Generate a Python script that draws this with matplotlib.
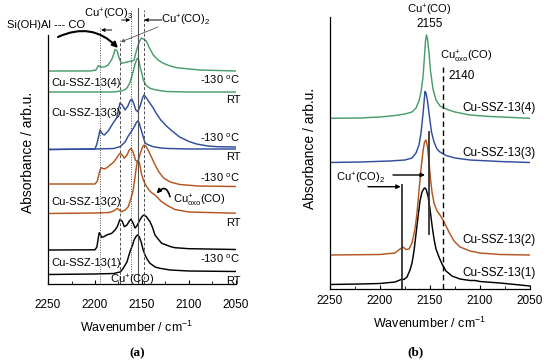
import matplotlib
matplotlib.use("Agg")
import matplotlib.pyplot as plt
from matplotlib.ticker import MultipleLocator

plt.rcParams['font.family'] = ['Liberation Sans', 'DejaVu Sans']
plt.rcParams['mathtext.fontset'] = 'custom'
plt.rcParams['mathtext.rm'] = 'Liberation Sans'
plt.rcParams['mathtext.it'] = 'Liberation Sans:italic'
plt.rcParams['mathtext.bf'] = 'Liberation Sans:bold'

# ---------------- data: panel (a) ----------------
a1_rt_wn = [2250, 2200, 2180, 2176, 2173, 2170, 2166, 2162.8, 2160, 2158.5, 2156, 2154.6, 2153, 2151, 2149, 2146.8, 2144, 2141.5, 2136, 2131, 2120, 2100, 2050]
a1_rt_ab = [0.095, 0.10, 0.105, 0.115, 0.12, 0.157, 0.22, 0.323, 0.39, 0.44, 0.48, 0.49, 0.475, 0.423, 0.35, 0.29, 0.24, 0.207, 0.17, 0.157, 0.14, 0.13, 0.125]

a1_lt_wn = [2250, 2200, 2198, 2196.5, 2195.5, 2194, 2192.9, 2190, 2187.6, 2182.2, 2178.7, 2176.3, 2173.4, 2171, 2168.8, 2166, 2163.5, 2161.7, 2159.5, 2157.4, 2155.5, 2152, 2149.5, 2147.9, 2145.5, 2141.5, 2139, 2136.2, 2132, 2129, 2120, 2115, 2100, 2050]
a1_lt_ab = [0.34, 0.342, 0.37, 0.46, 0.513, 0.49, 0.467, 0.475, 0.49, 0.507, 0.54, 0.573, 0.647, 0.625, 0.573, 0.59, 0.63, 0.647, 0.61, 0.56, 0.58, 0.645, 0.68, 0.69, 0.675, 0.623, 0.57, 0.49, 0.44, 0.407, 0.375, 0.363, 0.353, 0.345]

a2_rt_wn = [2250, 2200, 2185, 2180, 2176.3, 2172, 2168, 2164.6, 2162, 2159.3, 2157, 2155.5, 2154, 2152.5, 2150.5, 2148.6, 2146, 2143, 2140, 2137, 2134, 2130, 2124, 2115, 2100, 2050]
a2_rt_ab = [0.705, 0.71, 0.715, 0.73, 0.757, 0.722, 0.74, 0.773, 0.85, 0.94, 1.10, 1.20, 1.24, 1.20, 1.10, 1.04, 0.99, 0.945, 0.915, 0.895, 0.87, 0.83, 0.79, 0.745, 0.72, 0.708]

a2_lt_wn = [2250, 2200, 2197.5, 2195.5, 2193.6, 2190, 2187, 2184, 2180, 2177, 2175, 2173.4, 2171, 2168.8, 2166, 2163.5, 2161.7, 2159.5, 2157, 2154.6, 2152, 2149.5, 2147.6, 2145.5, 2143, 2140, 2136, 2132, 2127, 2120, 2110, 2090, 2050]
a2_lt_ab = [1.0, 1.0, 1.03, 1.11, 1.163, 1.15, 1.165, 1.19, 1.22, 1.26, 1.29, 1.307, 1.29, 1.257, 1.29, 1.34, 1.357, 1.32, 1.24, 1.215, 1.30, 1.37, 1.39, 1.375, 1.33, 1.27, 1.19, 1.12, 1.06, 1.02, 0.995, 0.98, 0.975]

a3_rt_wn = [2250, 2200, 2180, 2173, 2168, 2164.6, 2161, 2158.2, 2156, 2154.6, 2153, 2150.3, 2148, 2146.8, 2143, 2138, 2130, 2122, 2100, 2050]
a3_rt_ab = [1.345, 1.35, 1.355, 1.375, 1.42, 1.48, 1.53, 1.573, 1.615, 1.63, 1.61, 1.523, 1.45, 1.41, 1.39, 1.373, 1.36, 1.355, 1.35, 1.35]

a3_lt_wn = [2250, 2200, 2198, 2196, 2194.7, 2192, 2190, 2186, 2184, 2180, 2177, 2175, 2173.4, 2171, 2168, 2165, 2162.8, 2161, 2159, 2156.5, 2154.5, 2152, 2149.5, 2147.9, 2146, 2141.5, 2138, 2134.4, 2130, 2124, 2118, 2110, 2100, 2092, 2080, 2070, 2050]
a3_lt_ab = [1.345, 1.35, 1.40, 1.48, 1.54, 1.50, 1.49, 1.53, 1.56, 1.62, 1.66, 1.75, 1.81, 1.79, 1.74, 1.78, 1.83, 1.85, 1.81, 1.74, 1.723, 1.78, 1.86, 1.89, 1.87, 1.807, 1.76, 1.70, 1.64, 1.58, 1.53, 1.47, 1.425, 1.40, 1.38, 1.373, 1.37]

a4_rt_wn = [2250, 2180, 2172, 2168, 2166, 2163, 2161, 2159, 2157.4, 2155.5, 2154.6, 2153.5, 2152, 2150, 2148.6, 2146, 2141.5, 2135, 2124, 2100, 2050]
a4_rt_ab = [1.92, 1.92, 1.93, 1.945, 1.96, 2.01, 2.07, 2.14, 2.20, 2.25, 2.257, 2.24, 2.17, 2.10, 2.04, 1.99, 1.957, 1.94, 1.925, 1.92, 1.92]

a4_lt_wn = [2250, 2205, 2199, 2196.5, 2193.5, 2190, 2186, 2182, 2180, 2178.7, 2176.5, 2174, 2171.6, 2168, 2164, 2161, 2158.5, 2156, 2153, 2150.5, 2147.9, 2145.5, 2142, 2138, 2133, 2127.3, 2120, 2113, 2100, 2088, 2050]
a4_lt_ab = [2.13, 2.13, 2.14, 2.183, 2.17, 2.17, 2.19, 2.25, 2.30, 2.347, 2.33, 2.25, 2.207, 2.215, 2.225, 2.227, 2.24, 2.33, 2.42, 2.46, 2.447, 2.43, 2.36, 2.29, 2.24, 2.207, 2.18, 2.163, 2.15, 2.14, 2.13]

# ---------------- data: panel (b) ----------------
b1_wn = [2250, 2220, 2200, 2185, 2180, 2178, 2176, 2173, 2170, 2168, 2166, 2164, 2162, 2160, 2158, 2156, 2155, 2154, 2152, 2150, 2148, 2146, 2144, 2141, 2138, 2134, 2128, 2120, 2110, 2105, 2100, 2080, 2050]
b1_ab = [0.045, 0.05, 0.055, 0.07, 0.09, 0.10, 0.095, 0.12, 0.19, 0.26, 0.38, 0.55, 0.72, 0.88, 0.97, 1.005, 1.01, 1.00, 0.93, 0.80, 0.64, 0.50, 0.40, 0.32, 0.25, 0.18, 0.13, 0.10, 0.085, 0.085, 0.075, 0.06, 0.03]

b2_wn = [2250, 2200, 2185, 2180, 2177, 2174, 2171, 2168, 2165, 2163, 2161, 2159, 2157, 2155.5, 2154, 2152.5, 2151, 2149.5, 2148, 2146, 2143, 2140, 2137, 2134, 2130, 2126, 2120, 2110, 2100, 2080, 2050]
b2_ab = [0.34, 0.345, 0.36, 0.40, 0.42, 0.395, 0.40, 0.46, 0.60, 0.76, 0.98, 1.20, 1.38, 1.47, 1.49, 1.42, 1.27, 1.10, 0.97, 0.86, 0.78, 0.74, 0.69, 0.63, 0.55, 0.48, 0.42, 0.38, 0.36, 0.345, 0.34]

b3_wn = [2250, 2220, 2190, 2175, 2168, 2164, 2161, 2159, 2157, 2155.5, 2155, 2154, 2152.5, 2150.5, 2148.5, 2146, 2143, 2140, 2134, 2125, 2110, 2080, 2050]
b3_ab = [1.265, 1.27, 1.28, 1.29, 1.31, 1.36, 1.44, 1.56, 1.75, 1.92, 1.975, 1.96, 1.88, 1.72, 1.57, 1.47, 1.40, 1.37, 1.335, 1.31, 1.29, 1.275, 1.265]

b4_wn = [2250, 2220, 2200, 2185, 2175, 2168, 2164, 2161, 2159, 2157, 2155.5, 2154.5, 2153.5, 2152.5, 2151, 2149.5, 2147, 2144, 2140, 2134, 2125, 2110, 2090, 2050]
b4_ab = [1.707, 1.71, 1.72, 1.735, 1.75, 1.77, 1.81, 1.88, 1.97, 2.12, 2.33, 2.48, 2.54, 2.50, 2.36, 2.18, 2.00, 1.89, 1.83, 1.80, 1.77, 1.74, 1.725, 1.707]

sample_names = ['Cu-SSZ-13(1)', 'Cu-SSZ-13(2)', 'Cu-SSZ-13(3)', 'Cu-SSZ-13(4)']
xticks = [2250, 2200, 2150, 2100, 2050]

C_BLACK = '#000000'
C_BROWN = '#b4561f'
C_BLUE = '#2f4d9c'
C_GREEN = '#4a9d6c'
C_LINE = '#505050'

fig = plt.figure(figsize=(5.5, 3.64), dpi=100)
W, H = 550.0, 364.0
axa = fig.add_axes([48 / W, (H - 284) / H, 188 / W, 284 / H])
axb = fig.add_axes([330 / W, (H - 289) / H, 200 / W, 289 / H])

for ax, ytop, spine_top, pad in [(axa, 2.84, 2.49, 11), (axb, 2.89, 2.72, 4)]:
    ax.set_xlim(2250, 2050)
    ax.set_ylim(0, ytop)
    ax.patch.set_alpha(0)
    ax.spines['top'].set_visible(False)
    ax.spines['right'].set_visible(False)
    ax.spines['left'].set_bounds(0, spine_top)
    ax.spines['left'].set_linewidth(0.9)
    ax.spines['bottom'].set_linewidth(0.9)
    ax.set_yticks([])
    ax.set_xticks(xticks)
    ax.xaxis.set_minor_locator(MultipleLocator(25))
    ax.tick_params(axis='x', which='major', direction='in', length=3, width=0.8, labelsize=8.5, pad=pad)
    ax.tick_params(axis='x', which='minor', direction='in', length=2, width=0.6)

lw = 1.05
# panel (a) spectra
axa.plot(a1_rt_wn, a1_rt_ab, color=C_BLACK, lw=lw)
axa.plot(a1_lt_wn, a1_lt_ab, color=C_BLACK, lw=lw)
axa.plot(a2_rt_wn, a2_rt_ab, color=C_BROWN, lw=lw)
axa.plot(a2_lt_wn, a2_lt_ab, color=C_BROWN, lw=lw)
axa.plot(a3_rt_wn, a3_rt_ab, color=C_BLUE, lw=lw)
axa.plot(a3_lt_wn, a3_lt_ab, color=C_BLUE, lw=lw)
axa.plot(a4_rt_wn, a4_rt_ab, color=C_GREEN, lw=lw)
axa.plot(a4_lt_wn, a4_lt_ab, color=C_GREEN, lw=lw)

# panel (a) reference lines
axa.plot([2194.7, 2194.7], [0, 2.57], color=C_LINE, lw=0.7, ls=(0, (1, 1.5)))
axa.plot([2173.4, 2173.4], [0, 2.44], color=C_LINE, lw=0.7, ls=(0, (3, 2)))
axa.plot([2162, 2162], [0, 2.74], color=C_LINE, lw=0.7, ls=(0, (1, 1.5)))
axa.plot([2154.6, 2154.6], [0, 2.76], color=C_LINE, lw=0.8, ls='-')
axa.plot([2148, 2148], [0, 2.74], color=C_LINE, lw=0.7, ls=(0, (3, 2)))

fs = 8
# right-side labels
for y, t in [(2.04, '-130 $^{\\mathrm{o}}$C'), (1.84, 'RT'), (1.46, '-130 $^{\\mathrm{o}}$C'), (1.27, 'RT'),
             (1.06, '-130 $^{\\mathrm{o}}$C'), (0.613, 'RT'), (0.25, '-130 $^{\\mathrm{o}}$C'), (0.03, 'RT')]:
    axa.text(2045.5, y, t, ha='right', va='center', fontsize=fs, clip_on=False)
for y, t in [(0.21, sample_names[0]), (0.823, sample_names[1]), (1.71, sample_names[2]), (2.01, sample_names[3])]:
    axa.text(2246.5, y, t, ha='left', va='center', fontsize=fs)

axa.text(2160.5, 0.035, 'Cu$^{+}$(CO)', ha='center', va='center', fontsize=fs)
axa.text(2117, 0.833, 'Cu$^{+}_{\\mathrm{oxo}}$(CO)', ha='left', va='center', fontsize=fs)
axa.annotate('', xy=(2134.4, 0.905), xytext=(2120.2, 0.873),
             arrowprops=dict(arrowstyle='-|>', color='black', lw=1.2, mutation_scale=6,
                             connectionstyle='arc3,rad=0.9', shrinkA=0, shrinkB=0))
axa.text(2293.5, 2.59, 'Si(OH)Al --- CO', ha='left', va='center', fontsize=fs, clip_on=False)
axa.annotate('', xy=(2175.5, 2.36), xytext=(2239.4, 2.47),
             arrowprops=dict(arrowstyle='-|>', color='black', lw=1.5, mutation_scale=8,
                             connectionstyle='arc3,rad=-0.35', shrinkA=0, shrinkB=0))
axa.text(2185.5, 2.70, 'Cu$^{+}$(CO)$_{3}$', ha='center', va='center', fontsize=fs)
axa.annotate('', xy=(2193.5, 2.54), xytext=(2182.2, 2.54),
             arrowprops=dict(arrowstyle='-|>', color='black', lw=0.7, mutation_scale=5, shrinkA=0, shrinkB=0))
axa.annotate('', xy=(2162.5, 2.64), xytext=(2171.6, 2.64),
             arrowprops=dict(arrowstyle='-|>', color='black', lw=0.7, mutation_scale=5, shrinkA=0, shrinkB=0))
axa.text(2103.7, 2.64, 'Cu$^{+}$(CO)$_{2}$', ha='center', va='center', fontsize=fs)
axa.annotate('', xy=(2147.5, 2.64), xytext=(2129, 2.64),
             arrowprops=dict(arrowstyle='-|>', color='black', lw=0.7, mutation_scale=5, shrinkA=0, shrinkB=0))
axa.annotate('', xy=(2172.5, 2.42), xytext=(2133, 2.57),
             arrowprops=dict(arrowstyle='-|>', color='#555555', lw=0.6, mutation_scale=5, shrinkA=0, shrinkB=0))

# panel (b) spectra
axb.plot(b1_wn, b1_ab, color=C_BLACK, lw=lw)
axb.plot(b2_wn, b2_ab, color=C_BROWN, lw=lw)
axb.plot(b3_wn, b3_ab, color=C_BLUE, lw=lw)
axb.plot(b4_wn, b4_ab, color=C_GREEN, lw=lw)

axb.plot([2137.5, 2137.5], [0, 2.22], color='black', lw=1.0, ls=(0, (4, 2.5)))
axb.plot([2151, 2151], [0.55, 1.573], color='#333333', lw=1.3)
axb.plot([2178.3, 2178.3], [0, 1.04], color='#333333', lw=1.3)

axb.text(2151, 2.79, 'Cu$^{+}$(CO)', ha='center', va='center', fontsize=fs)
axb.text(2150.5, 2.65, '2155', ha='center', va='center', fontsize=fs + 0.5)
axb.text(2140, 2.32, 'Cu$^{+}_{\\mathrm{oxo}}$(CO)', ha='left', va='center', fontsize=fs)
axb.text(2132, 2.13, '2140', ha='left', va='center', fontsize=fs + 0.5)
for y, t in [(0.16, sample_names[0]), (0.49, sample_names[1]), (1.36, sample_names[2]), (1.81, sample_names[3])]:
    axb.text(2118, y, t, ha='left', va='center', fontsize=fs + 0.5, clip_on=False)
axb.text(2219, 1.11, 'Cu$^{+}$(CO)$_{2}$', ha='center', va='center', fontsize=fs)
axb.annotate('', xy=(2155, 1.14), xytext=(2187, 1.14),
             arrowprops=dict(arrowstyle='-|>', color='black', lw=1.0, mutation_scale=6, shrinkA=0, shrinkB=0))
axb.annotate('', xy=(2179.3, 1.023), xytext=(2212, 1.023),
             arrowprops=dict(arrowstyle='-|>', color='black', lw=1.0, mutation_scale=6, shrinkA=0, shrinkB=0))

# axis labels and panel tags
fig.text(137 / W, 1 - 327 / H, 'Wavenumber / cm$^{-1}$', ha='center', va='center', fontsize=9)
fig.text(430 / W, 1 - 323 / H, 'Wavenumber / cm$^{-1}$', ha='center', va='center', fontsize=9)
fig.text(28 / W, 1 - 152 / H, 'Absorbance / arb.u.', ha='center', va='center', rotation=90, fontsize=10)
fig.text(310 / W, 1 - 148 / H, 'Absorbance / arb.u.', ha='center', va='center', rotation=90, fontsize=10)
fig.text(137 / W, 1 - 353 / H, '(a)', ha='center', va='center', fontsize=9.5, family='Liberation Serif', weight='bold')
fig.text(416 / W, 1 - 352 / H, '(b)', ha='center', va='center', fontsize=9.5, family='Liberation Serif', weight='bold')

fig.savefig('out.png', dpi=100)
